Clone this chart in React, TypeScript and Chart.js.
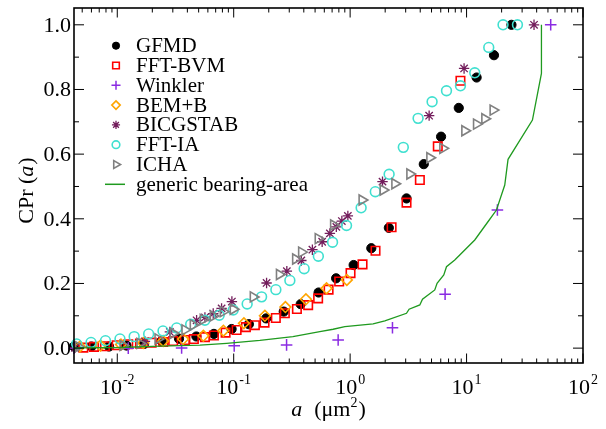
import React, { useEffect, useRef } from "react";
import { Chart, registerables } from "chart.js";
import { drawPoint } from "chart.js/helpers";

Chart.register(...registerables);

const FONT = '"Liberation Serif", "DejaVu Serif", serif';

// ---------- data ----------
const gfmdX = [0.00425, 0.006, 0.0085, 0.012, 0.017, 0.024, 0.0339, 0.0478, 0.0676, 0.0959, 0.135, 0.19, 0.269, 0.376, 0.536, 0.758, 1.072, 1.52, 2.15, 3.05, 4.29, 6.04, 8.57, 12.2, 17.2, 24.3];
const gfmdY = [0.005, 0.005, 0.005, 0.008, 0.013, 0.022, 0.029, 0.036, 0.044, 0.059, 0.074, 0.092, 0.113, 0.136, 0.172, 0.216, 0.257, 0.309, 0.372, 0.463, 0.569, 0.654, 0.743, 0.837, 0.906, 1.0];

const bvmX = [0.00511, 0.00631, 0.00784, 0.00988, 0.01243, 0.01566, 0.01974, 0.0248, 0.0302, 0.0381, 0.0455, 0.0566, 0.0676, 0.0852, 0.1059, 0.1273, 0.152, 0.184, 0.23, 0.275, 0.349, 0.436, 0.531, 0.653, 0.805, 1.008, 1.278, 1.652, 2.27, 3.05, 3.97, 5.66, 8.86];
const bvmY = [0.0015, 0.004, 0.006, 0.009, 0.012, 0.014, 0.017, 0.019, 0.022, 0.025, 0.028, 0.034, 0.039, 0.048, 0.056, 0.065, 0.071, 0.079, 0.093, 0.108, 0.121, 0.133, 0.154, 0.181, 0.206, 0.232, 0.259, 0.301, 0.374, 0.45, 0.52, 0.624, 0.827];

const winklerX = [0.00425, 0.01243, 0.0357, 0.101, 0.2845, 0.789, 2.31, 6.54, 18.4, 52.8];
const winklerY = [0.0, 0.0, 0.0005, 0.007, 0.01, 0.025, 0.063, 0.167, 0.427, 1.0];

const bemX = [0.00478, 0.00717, 0.01076, 0.01671, 0.0248, 0.0368, 0.0549, 0.0816, 0.1224, 0.1853, 0.278, 0.417, 0.627, 0.937];
const bemY = [0.005, 0.008, 0.011, 0.016, 0.022, 0.028, 0.038, 0.054, 0.077, 0.1, 0.127, 0.151, 0.185, 0.211];

const bicgX = [0.00433, 0.01729, 0.0283, 0.048, 0.0566, 0.0667, 0.0787, 0.0965, 0.1916, 0.286, 0.381, 0.474, 0.575, 0.67, 0.761, 0.849, 0.956, 1.897, 4.77, 9.52, 37.96];
const bicgY = [0.001, 0.021, 0.05, 0.086, 0.095, 0.107, 0.123, 0.144, 0.2015, 0.238, 0.271, 0.3045, 0.329, 0.355, 0.375, 0.393, 0.409, 0.515, 0.719, 0.865, 1.0];

const fftiaX = [0.00448, 0.00595, 0.00792, 0.01055, 0.01397, 0.0186, 0.0247, 0.0324, 0.0427, 0.0566, 0.0751, 0.099, 0.1305, 0.1736, 0.2302, 0.3037, 0.4029, 0.5334, 0.7062, 0.9313, 1.243, 1.645, 2.162, 2.862, 3.834, 5.057, 6.723, 8.862, 11.76, 15.51, 20.57, 27.35];
const fftiaY = [0.013, 0.0176, 0.0229, 0.0284, 0.0355, 0.0439, 0.0532, 0.0624, 0.0739, 0.0862, 0.1017, 0.1181, 0.1366, 0.1586, 0.1808, 0.2093, 0.2457, 0.2841, 0.3274, 0.3793, 0.434, 0.4838, 0.5376, 0.621, 0.7107, 0.762, 0.796, 0.8114, 0.8516, 0.9301, 1.0, 1.0];

const ichaX = [0.00463, 0.01119, 0.01566, 0.02236, 0.0302, 0.0381, 0.0449, 0.0547, 0.0667, 0.0813, 0.099, 0.1471, 0.2468, 0.3399, 0.3826, 0.5312, 0.7202, 1.265, 1.92, 2.419, 3.254, 4.831, 6.246, 9.65, 12.16, 14.33, 16.88];
const ichaY = [0.0046, 0.0083, 0.0145, 0.0284, 0.0461, 0.0563, 0.0717, 0.0887, 0.0995, 0.1128, 0.1202, 0.1583, 0.2278, 0.2757, 0.2968, 0.3388, 0.3808, 0.4581, 0.489, 0.5085, 0.5385, 0.5889, 0.6179, 0.6723, 0.693, 0.7094, 0.7363];

const bearingX = [0.00425, 0.01055, 0.02326, 0.0513, 0.0869, 0.1679, 0.3223, 0.5494, 0.7147, 0.9005, 1.575, 1.986, 3.049, 3.209, 3.966, 4.183, 5.333, 5.581, 6.373, 6.723, 7.918, 8.741, 11.76, 15.21, 18.06, 21.28, 22.71, 36.79, 43.96, 43.96];
const bearingY = [0.0006, 0.002, 0.006, 0.009, 0.015, 0.024, 0.0355, 0.051, 0.0584, 0.0665, 0.0748, 0.0841, 0.1079, 0.1202, 0.1335, 0.1512, 0.1799, 0.2006, 0.2263, 0.2519, 0.2726, 0.2881, 0.3345, 0.3901, 0.4272, 0.5045, 0.5839, 0.7054, 0.8498, 1.0];

const seriesNames = ["GFMD", "FFT-BVM", "Winkler", "BEM+B", "BICGSTAB", "FFT-IA", "ICHA", "generic bearing-area"];

const xMajorTicks = [0.01, 0.1, 1, 10, 100];
const xTickExponents = ["-2", "-1", "0", "1", "2"];
const yMajorTicks = [0, 0.2, 0.4, 0.6, 0.8, 1.0];
const yTickLabels = ["0.0", "0.2", "0.4", "0.6", "0.8", "1.0"];
const yMinorTicks = [0.1, 0.3, 0.5, 0.7, 0.9];

const X_MIN = 0.00425;
const X_MAX = 100;
const Y_MIN = -0.046;
const Y_MAX = 1.052;

// ---------- styles ----------
type Sty = { pointStyle: any; radius: number; color: string; fill: string; borderWidth: number; rotation?: number };
const styles: Sty[] = [
  { pointStyle: "circle", radius: 4.6, color: "#000000", fill: "#000000", borderWidth: 1 },
  { pointStyle: "rect", radius: 6.0, color: "#ff0000", fill: "rgba(0,0,0,0)", borderWidth: 1.6 },
  { pointStyle: "cross", radius: 5.8, color: "#8a2be2", fill: "rgba(0,0,0,0)", borderWidth: 1.5 },
  { pointStyle: "rectRot", radius: 5.4, color: "#ffa500", fill: "rgba(0,0,0,0)", borderWidth: 1.6 },
  { pointStyle: "star", radius: 5.2, color: "#731d5c", fill: "rgba(0,0,0,0)", borderWidth: 1.3 },
  { pointStyle: "circle", radius: 4.9, color: "#40e0d0", fill: "rgba(0,0,0,0)", borderWidth: 1.6 },
  { pointStyle: "triangle", radius: 5.8, color: "#808080", fill: "rgba(0,0,0,0)", borderWidth: 1.6, rotation: 90 },
];
const LINE_COLOR = "#1f9a1f";

function pts(xs: number[], ys: number[]) {
  return xs.map((x, i) => ({ x, y: ys[i] }));
}

const seriesData = [
  pts(gfmdX, gfmdY),
  pts(bvmX, bvmY),
  pts(winklerX, winklerY),
  pts(bemX, bemY),
  pts(bicgX, bicgY),
  pts(fftiaX, fftiaY),
  pts(ichaX, ichaY),
];

function xMinorTicks(): number[] {
  const out: number[] = [];
  for (let e = -3; e <= 1; e++) {
    for (let m = 2; m <= 9; m++) {
      const v = m * Math.pow(10, e);
      if (v > X_MIN && v < X_MAX) out.push(v);
    }
  }
  return out;
}

const decorPlugin = {
  id: "decor",
  afterDraw(chart: any) {
    const ctx: CanvasRenderingContext2D = chart.ctx;
    const { left, right, top, bottom } = chart.chartArea;
    const xs = chart.scales.x;
    const ys = chart.scales.y;
    ctx.save();
    ctx.strokeStyle = "#000";
    ctx.lineWidth = 1;
    const seg = (x1: number, y1: number, x2: number, y2: number) => {
      ctx.beginPath();
      ctx.moveTo(x1, y1);
      ctx.lineTo(x2, y2);
      ctx.stroke();
    };
    xMajorTicks.forEach((v) => {
      const p = xs.getPixelForValue(v);
      seg(p, bottom, p, bottom - 9.5);
      seg(p, top, p, top + 9.5);
    });
    xMinorTicks().forEach((v) => {
      const p = xs.getPixelForValue(v);
      seg(p, bottom, p, bottom - 4.5);
      seg(p, top, p, top + 4.5);
    });
    yMajorTicks.forEach((v) => {
      const p = ys.getPixelForValue(v);
      seg(left, p, left + 10, p);
      seg(right, p, right - 10, p);
    });
    yMinorTicks.forEach((v) => {
      const p = ys.getPixelForValue(v);
      seg(left, p, left + 5, p);
      seg(right, p, right - 5, p);
    });
    ctx.lineWidth = 1.6;
    ctx.strokeRect(left, top, right - left, bottom - top);

    // y tick labels
    ctx.fillStyle = "#000";
    ctx.font = `22px ${FONT}`;
    ctx.textAlign = "right";
    ctx.textBaseline = "middle";
    yMajorTicks.forEach((v, i) => {
      ctx.fillText(yTickLabels[i], left - 3, ys.getPixelForValue(v) + 1);
    });

    // x tick labels 10^n
    ctx.textAlign = "left";
    ctx.textBaseline = "alphabetic";
    xMajorTicks.forEach((v, i) => {
      const p = xs.getPixelForValue(v);
      ctx.font = `22px ${FONT}`;
      const wb = ctx.measureText("10").width;
      ctx.font = `14px ${FONT}`;
      const we = ctx.measureText(xTickExponents[i]).width;
      const start = p - (wb + 1 + we) / 2;
      ctx.font = `22px ${FONT}`;
      ctx.fillText("10", start, bottom + 31);
      ctx.font = `14px ${FONT}`;
      ctx.fillText(xTickExponents[i], start + wb + 1, bottom + 21);
    });

    // x axis title: a (μm²)
    {
      const italic = `italic 22px ${FONT}`;
      const normal = `22px ${FONT}`;
      const sup = `14px ${FONT}`;
      ctx.font = italic;
      const wa = ctx.measureText("a").width;
      const gap = 12;
      ctx.font = normal;
      const w1 = ctx.measureText("(μm").width;
      ctx.font = sup;
      const w2 = ctx.measureText("2").width;
      ctx.font = normal;
      const w3 = ctx.measureText(")").width;
      const total = wa + gap + w1 + w2 + 1 + w3;
      let x0 = (left + right) / 2 - total / 2;
      const base = bottom + 52.5;
      ctx.font = italic;
      ctx.fillText("a", x0, base);
      x0 += wa + gap;
      ctx.font = normal;
      ctx.fillText("(μm", x0, base);
      x0 += w1;
      ctx.font = sup;
      ctx.fillText("2", x0, base - 9);
      x0 += w2 + 1;
      ctx.font = normal;
      ctx.fillText(")", x0, base);
    }

    // y axis title: CPr (a)
    {
      ctx.save();
      ctx.translate(27, (top + bottom) / 2 + 5);
      ctx.rotate(-Math.PI / 2);
      const normal = `22px ${FONT}`;
      const italic = `italic 22px ${FONT}`;
      ctx.font = normal;
      const w1 = ctx.measureText("CPr (").width;
      ctx.font = italic;
      const w2 = ctx.measureText("a").width;
      ctx.font = normal;
      const w3 = ctx.measureText(")").width;
      const total = w1 + w2 + w3 + 1;
      let x0 = -total / 2;
      ctx.textBaseline = "middle";
      ctx.font = normal;
      ctx.fillText("CPr (", x0, 0);
      x0 += w1;
      ctx.font = italic;
      ctx.fillText("a", x0, 0);
      x0 += w2 + 1;
      ctx.font = normal;
      ctx.fillText(")", x0, 0);
      ctx.restore();
    }

    // legend
    const lx = 116;
    const ly0 = 45.7;
    const dy = 19.8;
    ctx.textAlign = "left";
    ctx.textBaseline = "middle";
    seriesNames.forEach((name, i) => {
      const cy = ly0 + i * dy;
      if (i < styles.length) {
        const s = styles[i];
        ctx.fillStyle = s.fill;
        ctx.strokeStyle = s.color;
        ctx.lineWidth = s.borderWidth;
        drawPoint(ctx, { pointStyle: s.pointStyle, radius: s.radius * 0.78, rotation: s.rotation || 0, borderWidth: s.borderWidth } as any, lx, cy);
      } else {
        ctx.strokeStyle = LINE_COLOR;
        ctx.lineWidth = 1.5;
        seg(lx - 11, cy, lx + 9, cy);
      }
      ctx.fillStyle = "#000";
      ctx.font = `21px ${FONT}`;
      ctx.fillText(name, 136, cy + 1);
    });
    ctx.restore();
  },
};

export default function App() {
  const ref = useRef<HTMLCanvasElement | null>(null);
  useEffect(() => {
    if (!ref.current) return;
    const datasets: any[] = seriesData.map((d, i) => {
      const s = styles[i];
      return {
        label: seriesNames[i],
        data: d,
        showLine: false,
        pointStyle: s.pointStyle,
        pointRadius: s.radius,
        pointRotation: s.rotation || 0,
        pointBackgroundColor: s.fill,
        pointBorderColor: s.color,
        pointBorderWidth: s.borderWidth,
        backgroundColor: s.fill,
        borderColor: s.color,
        clip: false,
        order: 10 - i,
      };
    });
    datasets.push({
      label: seriesNames[7],
      data: pts(bearingX, bearingY),
      showLine: true,
      pointRadius: 0,
      borderColor: LINE_COLOR,
      borderWidth: 1.3,
      tension: 0,
      fill: false,
      order: 1,
    });
    const chart = new Chart(ref.current, {
      type: "scatter",
      data: { datasets },
      options: {
        animation: false,
        responsive: false,
        events: [],
        layout: { padding: { left: 74, right: 23, top: 8, bottom: 66 } },
        scales: {
          x: { type: "logarithmic", min: X_MIN, max: X_MAX, display: false },
          y: { type: "linear", min: Y_MIN, max: Y_MAX, display: false },
        },
        plugins: { legend: { display: false }, tooltip: { enabled: false } },
      },
      plugins: [decorPlugin],
    } as any);
    return () => chart.destroy();
  }, []);
  return (
    <div style={{ position: "absolute", left: 0, top: 0, width: 606, height: 429, background: "#fff" }}>
      <canvas ref={ref} width={606} height={429} style={{ width: 606, height: 429, display: "block" }} />
    </div>
  );
}
